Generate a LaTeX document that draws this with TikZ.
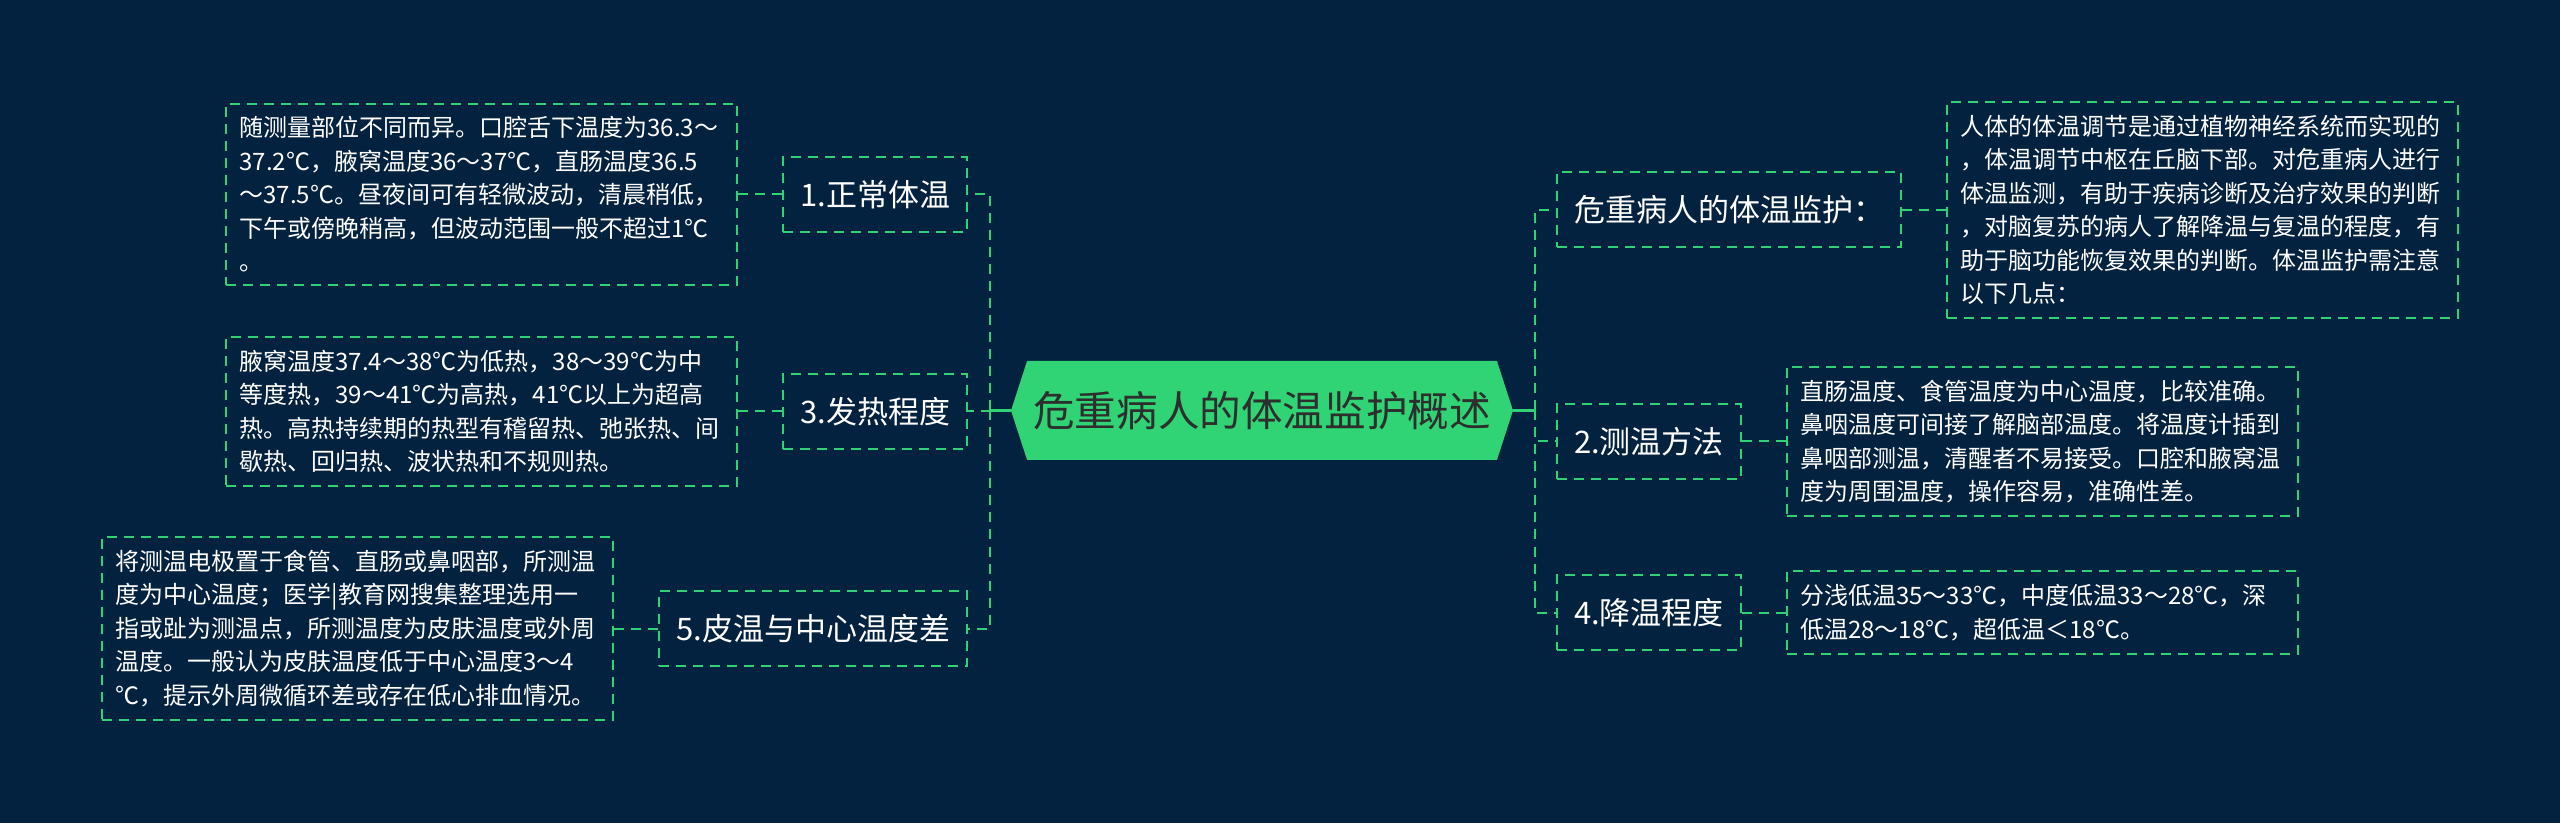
\documentclass[tikz,border=0pt]{standalone}
\usepackage{fontspec}
\setmainfont{Noto Sans CJK SC}
\usepackage{tikz}
\usetikzlibrary{positioning, shapes.symbols}

\definecolor{bgnavy}{HTML}{03223F}
\definecolor{mapgreen}{HTML}{2FD374}
\definecolor{rootgreen}{HTML}{30D475}
\definecolor{roottext}{HTML}{2E2E2E}

\begin{document}
\begin{tikzpicture}[
    x=0.5pt, y=-0.5pt,
    node distance=22pt,
    rootbox/.style={signal, signal to=west and east, signal pointer angle=144, fill=rootgreen, minimum width=251pt, minimum height=49.5pt, inner sep=0pt, text=roottext, font=\fontsize{20.8}{24}\selectfont},
    topicbox/.style={rectangle, draw=mapgreen, line width=1pt, dash pattern=on 5pt off 3.5pt, minimum height=37.5pt, inner xsep=8.5pt, text=white, font=\fontsize{15.5}{18}\selectfont},
    notebox/.style={rectangle, draw=mapgreen, line width=1pt, dash pattern=on 5pt off 3.5pt, text width=242pt, inner xsep=6.75pt, inner ysep=6.5pt, align=left, text=white, font=\fontsize{12}{16.75}\selectfont},
    link/.style={draw=mapgreen, line width=1pt, dash pattern=on 5pt off 3.5pt},
    stub/.style={draw=mapgreen, line width=1.5pt},
]

\fill[bgnavy] (0,0) rectangle (2560,823);
\useasboundingbox (0,0) rectangle (2560,823);

\node[rootbox] (root) at (1262, 410.5) {危重病人的体温监护概述};
\coordinate[left=10.5pt of root] (lhub);
\coordinate[right=11pt of root] (rhub);

% left branches
\node[topicbox, anchor=east] (n1) at (968, 194.5) {1.正常体温};
\node[topicbox, anchor=east] (n3) at (968, 411.5) {3.发热程度};
\node[topicbox, anchor=east] (n5) at (968, 628.5) {5.皮温与中心温度差};

\node[notebox, left=of n1] (t1) {随测量部位不同而异。口腔舌下温度为36.3～\\37.2℃，腋窝温度36～37℃，直肠温度36.5\\～37.5℃。昼夜间可有轻微波动，清晨稍低，\\下午或傍晚稍高，但波动范围一般不超过1℃\\。};
\node[notebox, left=of n3] (t3) {腋窝温度37.4～38℃为低热，38～39℃为中\\等度热，39～41℃为高热，41℃以上为超高\\热。高热持续期的热型有稽留热、弛张热、间\\歇热、回归热、波状热和不规则热。};
\node[notebox, left=of n5] (t5) {将测温电极置于食管、直肠或鼻咽部，所测温\\度为中心温度；医学|教育网搜集整理选用一\\指或趾为测温点，所测温度为皮肤温度或外周\\温度。一般认为皮肤温度低于中心温度3～4\\℃，提示外周微循环差或存在低心排血情况。};

% right branches
\node[topicbox, anchor=west] (m0) at (1556, 210) {危重病人的体温监护：};
\node[topicbox, anchor=west] (m2) at (1556, 441.5) {2.测温方法};
\node[topicbox, anchor=west] (m4) at (1556, 612.5) {4.降温程度};

\node[notebox, right=of m0] (s0) {人体的体温调节是通过植物神经系统而实现的\\，体温调节中枢在丘脑下部。对危重病人进行\\体温监测，有助于疾病诊断及治疗效果的判断\\，对脑复苏的病人了解降温与复温的程度，有\\助于脑功能恢复效果的判断。体温监护需注意\\以下几点：};
\node[notebox, right=of m2] (s2) {直肠温度、食管温度为中心温度，比较准确。\\鼻咽温度可间接了解脑部温度。将温度计插到\\鼻咽部测温，清醒者不易接受。口腔和腋窝温\\度为周围温度，操作容易，准确性差。};
\node[notebox, right=of m4] (s4) {分浅低温35～33℃，中度低温33～28℃，深\\低温28～18℃，超低温＜18℃。};

% connectors
\draw[stub] (root.west) -- (lhub);
\draw[stub] (root.east) -- (rhub);
\draw[link] (lhub) |- (n1.east);
\draw[link] (lhub) |- (n3.east);
\draw[link] (lhub) |- (n5.east);
\draw[link] (rhub) |- (m0.west);
\draw[link] (rhub) |- (m2.west);
\draw[link] (rhub) |- (m4.west);

\draw[link] (n1.west) -- (t1.east);
\draw[link] (n3.west) -- (t3.east);
\draw[link] (n5.west) -- (t5.east);
\draw[link] (m0.east) -- (s0.west);
\draw[link] (m2.east) -- (s2.west);
\draw[link] (m4.east) -- (s4.west);

\end{tikzpicture}
\end{document}
